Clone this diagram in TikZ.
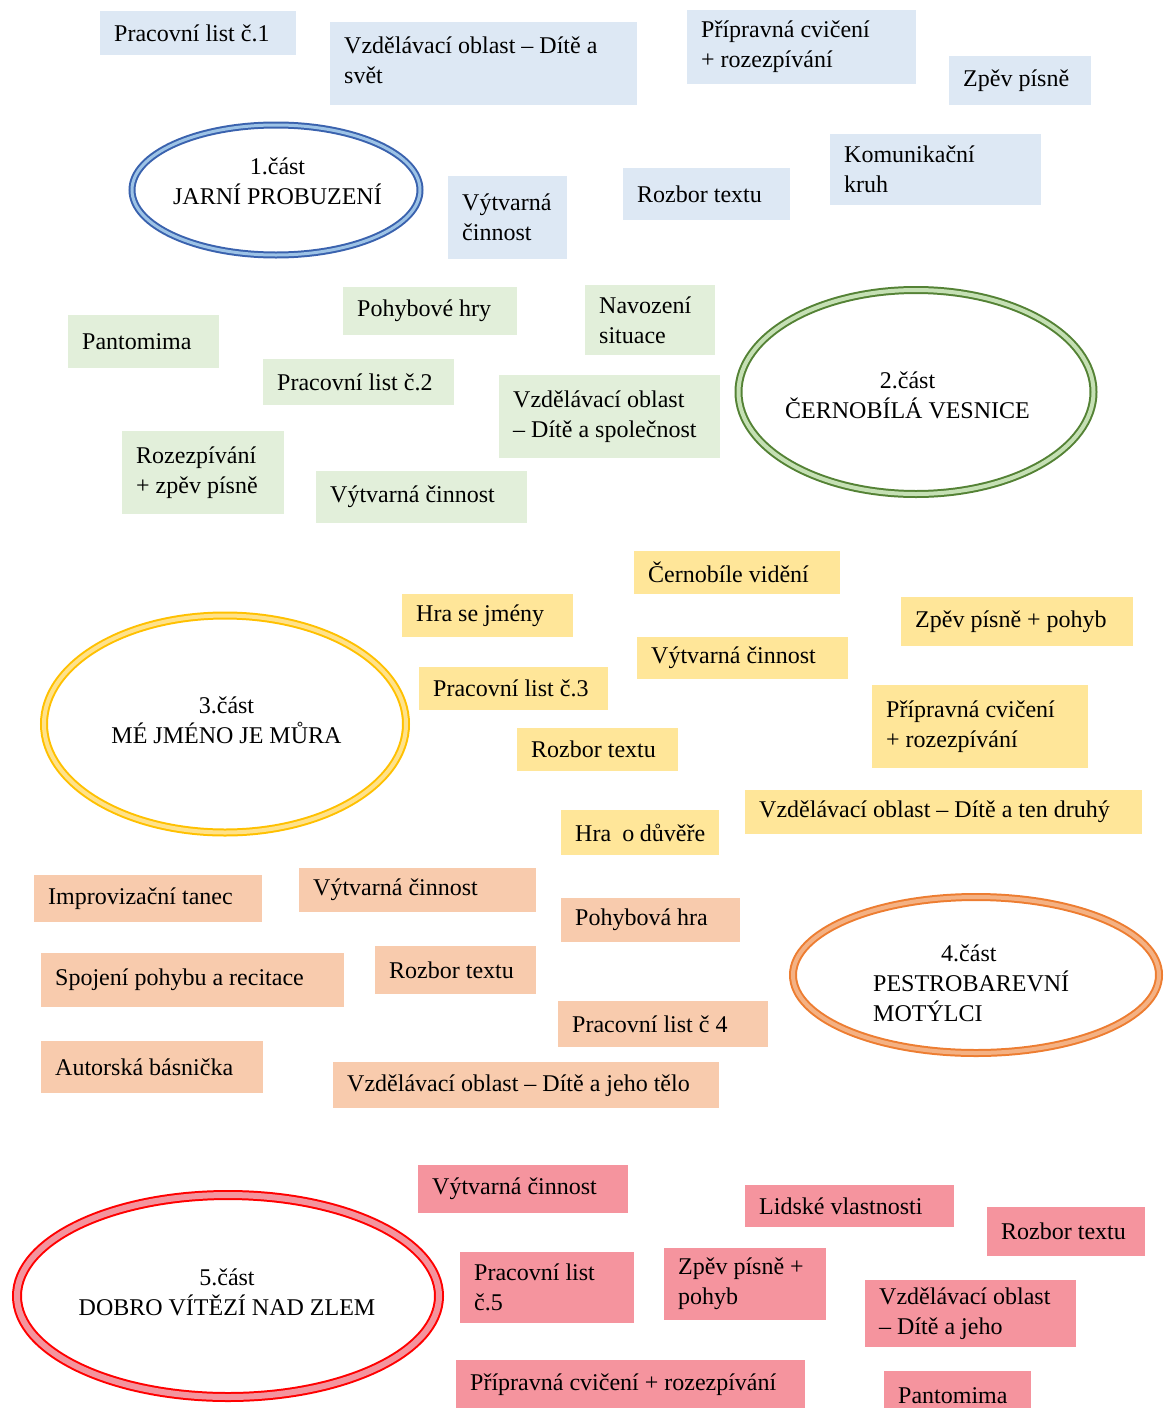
\documentclass[tikz,border=0pt]{standalone}
\usepackage{fontspec}
\setmainfont{Liberation Serif}
\usetikzlibrary{calc}
\newcommand\boxfont{\fontsize{24}{30}\selectfont}
\definecolor{fillblue}{HTML}{DDE8F4}
\definecolor{fillgreen}{HTML}{E2EFDA}
\definecolor{fillyellow}{HTML}{FFE699}
\definecolor{fillorange}{HTML}{F8CBAD}
\definecolor{fillred}{HTML}{F5949E}
\definecolor{ringblue}{HTML}{3A62AE}
\definecolor{bandblue}{HTML}{9DC3E6}
\definecolor{ringgreen}{HTML}{548235}
\definecolor{bandgreen}{HTML}{C5E0B4}
\definecolor{ringyellow}{HTML}{FFC000}
\definecolor{bandyellow}{HTML}{FFE28A}
\definecolor{ringorange}{HTML}{ED7D31}
\definecolor{bandorange}{HTML}{F4B183}
\definecolor{ringred}{HTML}{FF0000}
\definecolor{bandred}{HTML}{F4949E}
\tikzset{
    my-box/.style={
        rectangle, anchor=north west, inner xsep=14pt, inner ysep=0pt, align=flush left, font=\boxfont
    },
    box-size/.code 2 args={
        \pgfmathsetlengthmacro\boxtw{#1pt-28pt}
        \tikzset{minimum width=#1pt, minimum height=#2pt, text width=\boxtw}
    },
    blue-box/.style={my-box, fill=fillblue},
    green-box/.style={my-box, fill=fillgreen},
    yellow-box/.style={my-box, fill=fillyellow},
    orange-box/.style={my-box, fill=fillorange},
    red-box/.style={my-box, fill=fillred},
    my-part/.style={
        align=center, inner sep=0pt, font=\boxfont
    },
    my-ring/.style 2 args={
        draw=#1, double=#2, line width=2pt, double distance=4pt
    },
}

\begin{document}
\begin{tikzpicture}[x=1pt, y=-1pt]

        \useasboundingbox (0, 0) rectangle (1166, 1408);

        % 1.CAST - JARNI PROBUZENI --------------------------------------------------------------------

        \coordinate (C1) at (276, 190);
        \draw[my-ring={ringblue}{bandblue}, double distance=3pt] (C1) ellipse [x radius=144, y radius=65];
        \node[my-part] (PART1) at ($(C1) + (1.5, -9)$) {1.část\\JARNÍ PROBUZENÍ};

        \node[blue-box, box-size={196}{44}] (PL1) at ($(C1) + (-176, -179)$) {Pracovní list č.1};
        \node[blue-box, box-size={307}{83}] (VO1) at ($(C1) + (54, -168)$)   {Vzdělávací oblast – Dítě a\\svět\vspace*{6pt}};
        \node[blue-box, box-size={229}{74}] (PC1) at ($(C1) + (411, -180)$)  {Přípravná cvičení\\+ rozezpívání};
        \node[blue-box, box-size={142}{49}] (ZP1) at ($(C1) + (673, -134)$)  {Zpěv písně};
        \node[blue-box, box-size={211}{71}] (KK1) at ($(C1) + (554, -56)$)   {Komunikační\\kruh};
        \node[blue-box, box-size={167}{52}] (RT1) at ($(C1) + (347, -22)$)   {Rozbor textu};
        \node[blue-box, box-size={119}{83}] (VC1) at ($(C1) + (172, -14)$)   {Výtvarná\\činnost};

        % 2.CAST - CERNOBILA VESNICE ------------------------------------------------------------------

        \coordinate (C2) at (916, 392);
        \draw[my-ring={ringgreen}{bandgreen}] (C2) ellipse [x radius=177.5, y radius=102];
        \node[my-part] (PART2) at ($(C2) + (-8.5, 3)$) {2.část\\ČERNOBÍLÁ VESNICE};

        \node[green-box, box-size={174}{48}] (PH2) at ($(C2) + (-573, -105)$) {Pohybové hry};
        \node[green-box, box-size={130}{70}] (NS2) at ($(C2) + (-331, -107)$) {Navození\\situace};
        \node[green-box, box-size={151}{53}] (PA2) at ($(C2) + (-848, -77)$)  {Pantomima};
        \node[green-box, box-size={191}{46}] (PL2) at ($(C2) + (-653, -33)$)  {Pracovní list č.2};
        \node[green-box, box-size={221}{83}] (VO2) at ($(C2) + (-417, -17)$)  {Vzdělávací oblast\\– Dítě a společnost};
        \node[green-box, box-size={162}{83}] (RZ2) at ($(C2) + (-794, 39)$)   {Rozezpívání\\+ zpěv písně};
        \node[green-box, box-size={211}{52}] (VC2) at ($(C2) + (-600, 79)$)   {Výtvarná činnost};

        % 3.CAST - ME JMENO JE MURA -------------------------------------------------------------------

        \coordinate (C3) at (225, 724);
        \draw[my-ring={ringyellow}{bandyellow}] (C3) ellipse [x radius=181, y radius=108.5];
        \node[my-part] (PART3) at ($(C3) + (1.5, -4)$) {3.část\\MÉ JMÉNO JE MŮRA};

        \node[yellow-box, box-size={206}{43}] (CV3) at ($(C3) + (409, -173)$) {Černobíle vidění};
        \node[yellow-box, box-size={171}{43}] (HJ3) at ($(C3) + (177, -130)$) {Hra se jmény};
        \node[yellow-box, box-size={232}{49}] (ZP3) at ($(C3) + (676, -127)$) {Zpěv písně + pohyb};
        \node[yellow-box, box-size={211}{42}] (VC3) at ($(C3) + (412, -87)$)  {Výtvarná činnost};
        \node[yellow-box, box-size={189}{43}] (PL3) at ($(C3) + (194, -57)$)  {Pracovní list č.3};
        \node[yellow-box, box-size={216}{83}] (PC3) at ($(C3) + (647, -39)$)  {Přípravná cvičení\\+ rozezpívání};
        \node[yellow-box, box-size={161}{43}] (RT3) at ($(C3) + (292, 4)$)    {Rozbor textu};
        \node[yellow-box, box-size={158}{45}] (HD3) at ($(C3) + (336, 86)$)   {Hra \ o důvěře};
        \node[yellow-box, box-size={397}{44}] (VO3) at ($(C3) + (520, 66)$)   {Vzdělávací oblast – Dítě a ten druhý};

        % 4.CAST - PESTROBAREVNI MOTYLCI --------------------------------------------------------------

        \coordinate (C4) at (976, 975);
        \draw[my-ring={ringorange}{bandorange}] (C4) ellipse [x radius=183, y radius=78];
        \node[my-part, align=left, anchor=west] (PART4) at ($(C4) + (-103, 8)$) {\hspace*{68pt}4.část\\PESTROBAREVNÍ\\MOTÝLCI};

        \node[orange-box, box-size={228}{47}] (IT4) at ($(C4) + (-942, -100)$) {Improvizační tanec};
        \node[orange-box, box-size={237}{44}] (VC4) at ($(C4) + (-677, -107)$) {Výtvarná činnost};
        \node[orange-box, box-size={179}{44}] (PH4) at ($(C4) + (-415, -77)$)  {Pohybová hra};
        \node[orange-box, box-size={303}{54}] (SP4) at ($(C4) + (-935, -22)$)  {Spojení pohybu a recitace};
        \node[orange-box, box-size={161}{48}] (RT4) at ($(C4) + (-601, -29)$)  {Rozbor textu};
        \node[orange-box, box-size={210}{46}] (PL4) at ($(C4) + (-418, 26)$)   {Pracovní list č 4};
        \node[orange-box, box-size={222}{52}] (AB4) at ($(C4) + (-935, 66)$)   {Autorská básnička};
        \node[orange-box, box-size={386}{46}] (VO4) at ($(C4) + (-643, 87)$)   {Vzdělávací oblast – Dítě a jeho tělo};

        % 5.CAST - DOBRO VITEZI NAD ZLEM --------------------------------------------------------------

        \coordinate (C5) at (228, 1296);
        \draw[my-ring={ringred}{bandred}, double distance=6pt] (C5) ellipse [x radius=211, y radius=101];
        \node[my-part] (PART5) at ($(C5) + (-1, -4)$) {5.část\\DOBRO VÍTĚZÍ NAD ZLEM};

        \node[red-box, box-size={210}{48}] (VC5) at ($(C5) + (190, -131)$) {Výtvarná činnost};
        \node[red-box, box-size={209}{42}] (LV5) at ($(C5) + (517, -111)$) {Lidské vlastnosti};
        \node[red-box, box-size={158}{49}] (RT5) at ($(C5) + (759, -89)$)  {Rozbor textu};
        \node[red-box, box-size={174}{71}] (PL5) at ($(C5) + (232, -44)$)  {Pracovní list\\č.5};
        \node[red-box, box-size={162}{72}] (ZP5) at ($(C5) + (436, -48)$)  {Zpěv písně +\\pohyb};
        \node[red-box, box-size={211}{67}] (VO5) at ($(C5) + (637, -16)$)  {Vzdělávací oblast\\– Dítě a jeho};
        \node[red-box, box-size={349}{48}] (PC5) at ($(C5) + (228, 64)$)   {Přípravná cvičení + rozezpívání};
        \node[red-box, box-size={147}{48}] (PA5) at ($(C5) + (656, 75)$)   {Pantomima};

\end{tikzpicture}
\end{document}
